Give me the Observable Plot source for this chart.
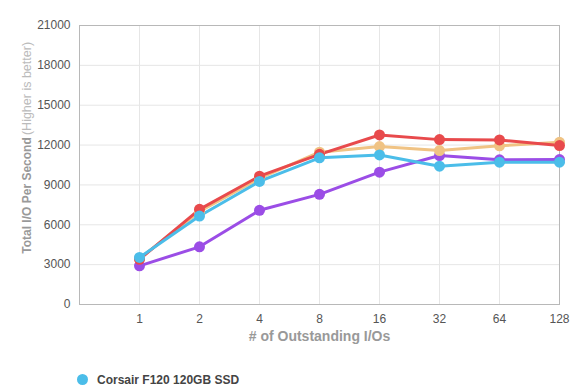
<!DOCTYPE html>
<html><head><meta charset="utf-8">
<script src="https://cdn.jsdelivr.net/npm/d3@7"></script>
<script src="https://cdn.jsdelivr.net/npm/@observablehq/plot@0.6"></script>
<style>
body{margin:0;background:#fff;font-family:"Liberation Sans",Arial,Helvetica,sans-serif;}
#wrap{position:relative;width:580px;height:390px;overflow:hidden;background:#fff;}
#title{position:absolute;left:82px;top:-14px;font-size:24px;line-height:24px;font-weight:bold;color:#111;white-space:nowrap;}
#title span{font-size:11px;font-weight:normal;color:#999;margin-left:6px;}
#logo{position:absolute;left:443px;top:-5px;font-size:12px;line-height:12px;font-weight:bold;color:#c4c4c4;white-space:nowrap;letter-spacing:-0.3px;}
#chart{position:absolute;left:0;top:0;}
#legend{position:absolute;left:77px;top:373px;font-size:12px;font-weight:bold;color:#444;white-space:nowrap;}
#legend i{display:inline-block;width:11px;height:11px;border-radius:50%;vertical-align:-1px;margin-right:9px;}
</style></head><body>
<div id="wrap">
<div id="title">WEB SERVER <span>I/O PER SECOND</span></div>
<div id="logo">THESSDREVIEW.COM</div>
<div id="chart"></div>
<div id="legend"></div>
</div>
<script>
// Outstanding I/Os (queue depth) categories
const queueDepths = ["1","2","4","8","16","32","64","128"];
// Series values (Total I/O per second)
const corsairF120 = [3540, 6660, 9260, 11040, 11260, 10410, 10710, 10710];
const seriesPurple = [2910, 4340, 7090, 8290, 9960, 11210, 10890, 10910];
const seriesOrange = [3450, 7000, 9500, 11460, 11890, 11590, 11940, 12210];
const seriesRed = [3400, 7160, 9660, 11300, 12760, 12410, 12390, 11960];
const yTicks = [0, 3000, 6000, 9000, 12000, 15000, 18000, 21000];

const seriesList = [
  {name: "Series purple", values: seriesPurple, color: "#9b4de6"},
  {name: "Series orange", values: seriesOrange, color: "#f0c384"},
  {name: "Series red", values: seriesRed, color: "#e84a4c"},
  {name: "Corsair F120 120GB SSD", values: corsairF120, color: "#4bbde9"}
];
const rows = seriesList.flatMap(s => s.values.map((v, i) => ({series: s.name, idx: i + 1, qd: queueDepths[i], value: v})));
const colorDomain = seriesList.map(s => s.name);
const colorRange = seriesList.map(s => s.color);

const chart = Plot.plot({
  width: 580,
  height: 360,
  marginTop: 25,
  marginBottom: 56,
  marginLeft: 79,
  marginRight: 21,
  style: {fontFamily: '"Liberation Sans", Arial, sans-serif', background: "#fff"},
  x: {domain: [0, 8]},
  y: {domain: [0, 21000]},
  color: {domain: colorDomain, range: colorRange},
  marks: [
    Plot.gridY(yTicks, {stroke: "#e6e6e6", strokeOpacity: 1}),
    Plot.gridX(d3.range(1, 9), {stroke: "#e6e6e6", strokeOpacity: 1}),
    Plot.frame({stroke: "#b8b8b8"}),
    Plot.axisY(yTicks, {tickSize: 0, tickPadding: 9, fontSize: 12, color: "#555", label: null, tickFormat: d => String(d)}),
    Plot.axisX(d3.range(1, 9), {tickSize: 0, tickPadding: 10, fontSize: 12, color: "#555", label: null, tickFormat: d => queueDepths[d - 1]}),
    Plot.text(["# of Outstanding I/Os"], {frameAnchor: "bottom", dy: 36, fontSize: 14, fontWeight: "bold", fill: "#999"}),
    Plot.text(["Total I/O Per Second"], {frameAnchor: "left", textAnchor: "middle", rotate: -90, dx: -52, dy: 30.5, fontSize: 12, fontWeight: "bold", fill: "#999"}),
    Plot.text(["(Higher is better)"], {frameAnchor: "left", textAnchor: "middle", rotate: -90, dx: -53, dy: -76.5, fontSize: 12.5, fill: "#bbb"}),
    Plot.line(rows, {x: "idx", y: "value", z: "series", stroke: "series", strokeWidth: 3}),
    Plot.dot(rows, {x: "idx", y: "value", fill: "series", r: 5.5})
  ]
});
document.getElementById("chart").appendChild(chart);

const legendSeries = seriesList.filter(s => s.name === "Corsair F120 120GB SSD");
document.getElementById("legend").innerHTML = legendSeries.map(s => `<i style="background:${s.color}"></i>${s.name}`).join("");
</script>
</body></html>
